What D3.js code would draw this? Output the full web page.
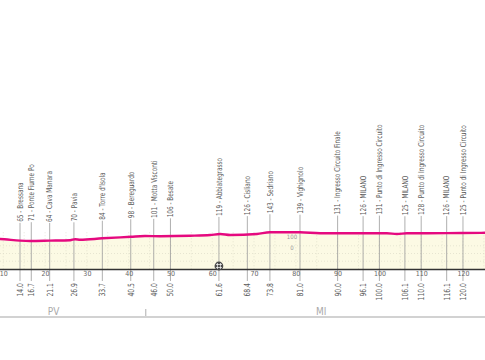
<!DOCTYPE html>
<html>
<head>
<meta charset="utf-8">
<script src="https://cdn.jsdelivr.net/npm/d3@7"></script>
<style>
  html, body { margin: 0; padding: 0; background: #fff; }
  svg { display: block; }
  text { font-family: "Liberation Sans Narrow", "Arial Narrow", "DejaVu Sans Condensed", sans-serif; }
</style>
</head>
<body>
<div id="chart"></div>
<script>
// profile (km, metres)
var profileKm   = [0, 5, 9.2, 14.0, 16.4, 21.1, 26.0, 27.2, 28.4, 33.7, 40.5, 43.9, 47.5, 54.7, 59.5, 61.9, 64.3, 70.7, 73.8, 81.0, 85.8, 96.1, 101.8, 104.2, 106.6, 116.1, 125.3, 130];
var profileElev = [80, 84, 82, 67, 64, 67, 71, 80, 75, 88, 102, 109, 107, 111, 118, 127, 118, 127, 143, 143, 134, 134, 134, 127, 134, 135, 138, 138];

// waypoints
var wpKm   = [14.0, 16.7, 21.1, 26.9, 33.7, 40.5, 46.0, 50.0, 61.6, 68.4, 73.8, 81.0, 90.0, 96.1, 100.0, 106.1, 110.0, 116.1, 120.0];
var wpElev = [65, 71, 64, 70, 84, 98, 101, 106, 119, 126, 143, 139, 131, 126, 131, 125, 128, 126, 125];
var wpName = ["Bressana", "Ponte Fiume Po", "Cava Manara", "Pavia", "Torre d'Isola", "Bereguardo",
              "Motta Visconti", "Besate", "Abbiategrasso", "Cisliano", "Sedriano", "Vighignolo",
              "Ingresso Circuito Finale", "MILANO", "Punto di Ingresso Circuito", "MILANO",
              "Punto di Ingresso Circuito", "MILANO", "Punto di Ingresso Circuito"];

var kmTicks = [10, 20, 30, 40, 50, 60, 70, 80, 90, 100, 110, 120];
var elevTicks = [100, 0];
var sprintKm = [61.6];

var provinces = ["PV", "MI"];
var provinceStart = [0, 44.1];
var provinceEnd = [44.1, 128];

var width = 485, height = 360;
var baseY = 269;
var squeeze = 0.8; // the original labels use a very condensed face

var svg = d3.select("#chart").append("svg")
    .attr("width", width)
    .attr("height", height);

var x = d3.scaleLinear().domain([0, 128]).range([-38.5, -38.5 + 128 * 4.179]);
var y = d3.scaleLinear().domain([0, 100]).range([248, 237]);

// filled profile
var area = d3.area()
    .x(function(d) { return x(d[0]); })
    .y0(baseY)
    .y1(function(d) { return y(d[1]); })
    .curve(d3.curveMonotoneX);
var line = d3.line()
    .x(function(d) { return x(d[0]); })
    .y(function(d) { return y(d[1]); })
    .curve(d3.curveMonotoneX);

var pts = profileKm.map(function(k, i) { return [k, profileElev[i]]; });

svg.append("path").datum(pts)
    .attr("d", area)
    .attr("fill", "#fcfae4");

// dotted grid
var grid = svg.append("g").attr("stroke", "#d8d6c4").attr("stroke-width", 0.6).attr("stroke-dasharray", "1,2");
[20, -50, -120].forEach(function(e) {
  grid.append("line").attr("x1", 0).attr("x2", width).attr("y1", y(e)).attr("y2", y(e));
});
d3.range(5, 130, 5).forEach(function(k) {
  grid.append("line").attr("x1", x(k)).attr("x2", x(k)).attr("y1", y(d3.max(profileElev))).attr("y2", baseY);
});

// elevation labels
svg.selectAll(".elev").data(elevTicks).enter().append("text")
    .attr("x", 292).attr("y", function(d) { return y(d); })
    .attr("dy", "0.35em").attr("text-anchor", "middle")
    .attr("font-size", 6).attr("fill", "#999")
    .text(function(d) { return d; });

// waypoint lines and labels
var wp = svg.selectAll(".wp").data(wpKm).enter().append("g");
wp.append("line")
    .attr("x1", function(d) { return x(d); })
    .attr("x2", function(d) { return x(d); })
    .attr("y1", function(d, i) { return y(wpElev[i]) - 18; })
    .attr("y2", 281)
    .attr("stroke", "#9a9a9a").attr("stroke-width", 0.8);
wp.append("text")
    .attr("transform", function(d, i) { return "translate(" + x(d) + "," + (y(wpElev[i]) - 19) + ") rotate(-90) scale(" + squeeze + ",1)"; })
    .attr("dy", "0.35em")
    .attr("font-size", 8).attr("fill", "#5a5a5a")
    .text(function(d, i) { return wpElev[i] + " - " + wpName[i]; });
wp.append("text")
    .attr("transform", function(d) { return "translate(" + x(d) + ",283) rotate(-90) scale(" + squeeze + ",1)"; })
    .attr("dy", "0.35em").attr("text-anchor", "end")
    .attr("font-size", 8.5).attr("fill", "#5a5a5a")
    .text(function(d) { return d.toFixed(1); });

// profile line
svg.append("path").datum(pts)
    .attr("d", line)
    .attr("fill", "none")
    .attr("stroke", "#e5097f")
    .attr("stroke-width", 2.4);

// axis
var axis = svg.append("g")
    .attr("transform", "translate(0," + baseY + ")")
    .call(d3.axisBottom(x).tickValues(kmTicks).tickSize(0).tickPadding(2));
axis.select(".domain").attr("stroke", "#333").attr("stroke-width", 1.4);
axis.selectAll("text").attr("font-size", 7).attr("fill", "#666")
    .style("font-family", "'Liberation Sans Narrow', 'DejaVu Sans Condensed', sans-serif");

// intermediate sprint marker
var sp = svg.selectAll(".sprint").data(sprintKm).enter().append("g")
    .attr("transform", function(d) { return "translate(" + x(d) + ",266)"; });
sp.append("circle").attr("r", 4.4).attr("fill", "#4a4a4a");
sp.append("path").attr("d", "M-3,-1.5H3M-3,1.5H3M-1.5,-3V3M1.5,-3V3")
    .attr("stroke", "#fff").attr("stroke-width", 0.7);

// provinces band
svg.append("line").attr("x1", 0).attr("x2", width).attr("y1", 317).attr("y2", 317)
    .attr("stroke", "#d2d2d2").attr("stroke-width", 2);
svg.selectAll(".prov").data(provinces).enter().append("text")
    .attr("x", function(d, i) { return (x(provinceStart[i]) + x(provinceEnd[i])) / 2; })
    .attr("y", 311).attr("dy", "0.35em").attr("text-anchor", "middle")
    .attr("font-size", 10).attr("fill", "#aaa")
    .text(function(d) { return d; });
svg.selectAll(".provsep").data(provinceStart.slice(1)).enter().append("line")
    .attr("x1", function(d) { return x(d); }).attr("x2", function(d) { return x(d); })
    .attr("y1", 309).attr("y2", 316)
    .attr("stroke", "#999").attr("stroke-width", 0.8);
</script>
</body>
</html>
